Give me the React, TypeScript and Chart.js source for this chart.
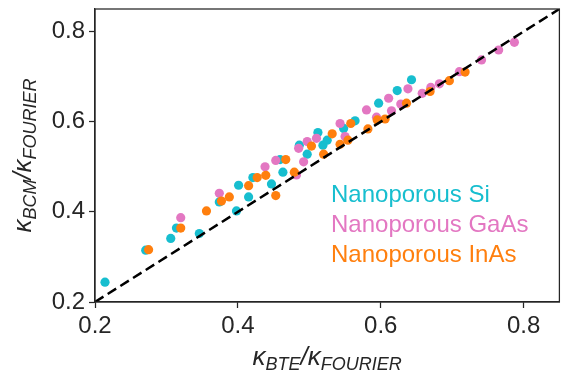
import React, { useEffect, useRef } from "react";
import { Chart, registerables } from "chart.js";

Chart.register(...registerables);

// ---- data ----
const seriesLabels = ["Nanoporous Si", "Nanoporous GaAs", "Nanoporous InAs"];
const seriesColors = ["#17becf", "#e377c2", "#ff7f0e"];

const siX = [0.214, 0.271, 0.306, 0.314, 0.346, 0.374, 0.398, 0.401, 0.415, 0.421, 0.447, 0.459, 0.463, 0.486, 0.497, 0.512, 0.519, 0.525, 0.548, 0.564, 0.597, 0.623, 0.643];
const siY = [0.244, 0.315, 0.341, 0.364, 0.352, 0.422, 0.402, 0.459, 0.433, 0.476, 0.462, 0.516, 0.488, 0.548, 0.528, 0.576, 0.548, 0.559, 0.585, 0.602, 0.641, 0.669, 0.693];

const gaasX = [0.320, 0.374, 0.438, 0.453, 0.482, 0.485, 0.492, 0.497, 0.510, 0.543, 0.550, 0.580, 0.594, 0.611, 0.615, 0.628, 0.638, 0.658, 0.670, 0.682, 0.710, 0.741, 0.765, 0.787];
const gaasY = [0.387, 0.441, 0.500, 0.514, 0.482, 0.541, 0.511, 0.556, 0.563, 0.596, 0.567, 0.626, 0.610, 0.652, 0.624, 0.639, 0.673, 0.663, 0.676, 0.684, 0.711, 0.737, 0.759, 0.776];

const inasX = [0.275, 0.320, 0.356, 0.377, 0.388, 0.415, 0.427, 0.439, 0.453, 0.467, 0.479, 0.503, 0.520, 0.532, 0.543, 0.554, 0.558, 0.582, 0.595, 0.606, 0.636, 0.669, 0.696, 0.718];
const inasY = [0.316, 0.364, 0.402, 0.424, 0.433, 0.458, 0.476, 0.481, 0.436, 0.516, 0.488, 0.546, 0.528, 0.573, 0.550, 0.559, 0.596, 0.584, 0.604, 0.606, 0.641, 0.667, 0.691, 0.710];

const diagonal = [0.2, 0.85];
const tickValues = [0.2, 0.4, 0.6, 0.8];
const axisMin = 0.2;
const axisMax = 0.85;

// ---- styling ----
const INK = "#262626";
const FONT = "'Liberation Sans', Arial, sans-serif";

type Run = [string, boolean];

function drawMath(ctx: CanvasRenderingContext2D, runs: Run[], cx: number, baseline: number) {
  const mainFont = `italic 26px ${FONT}`;
  const subFont = `italic 18px ${FONT}`;
  const widths = runs.map(([t, sub]) => {
    ctx.font = sub ? subFont : mainFont;
    return ctx.measureText(t).width;
  });
  const total = widths.reduce((a, b) => a + b, 0);
  let x = cx - total / 2;
  ctx.textAlign = "left";
  ctx.textBaseline = "alphabetic";
  runs.forEach(([t, sub], i) => {
    ctx.font = sub ? subFont : mainFont;
    ctx.fillText(t, x, sub ? baseline + 5 : baseline);
    x += widths[i];
  });
}

const overlay = {
  id: "overlay",
  afterDraw(chart: any) {
    const ctx: CanvasRenderingContext2D = chart.ctx;
    const a = chart.chartArea;
    ctx.save();
    ctx.strokeStyle = INK;
    ctx.lineWidth = 1.25;
    ctx.strokeRect(a.left, a.top, a.right - a.left, a.bottom - a.top);

    // legend (text only, coloured)
    ctx.font = `24px ${FONT}`;
    ctx.textAlign = "left";
    ctx.textBaseline = "alphabetic";
    seriesLabels.forEach((l, i) => {
      ctx.fillStyle = seriesColors[i];
      ctx.fillText(l, 331, 202 + 30 * i);
    });

    // axis titles
    ctx.fillStyle = INK;
    const cxPlot = (a.left + a.right) / 2;
    const cyPlot = (a.top + a.bottom) / 2;
    drawMath(ctx, [["κ", false], ["BTE", true], ["/", false], ["κ", false], ["FOURIER", true]], cxPlot, 365);
    ctx.save();
    ctx.translate(31, cyPlot);
    ctx.rotate(-Math.PI / 2);
    drawMath(ctx, [["κ", false], ["BCM", true], ["/", false], ["κ", false], ["FOURIER", true]], 0, 0);
    ctx.restore();
    ctx.restore();
  },
};

function axis(fit: (s: any) => void) {
  return {
    type: "linear" as const,
    min: axisMin,
    max: axisMax,
    afterBuildTicks: (s: any) => {
      s.ticks = tickValues.map((v) => ({ value: v }));
    },
    afterFit: (s: any) => {
      fit(s);
      s.paddingTop = 0;
      s.paddingBottom = 0;
      s.paddingLeft = 0;
      s.paddingRight = 0;
    },
    ticks: {
      callback: (v: any) => Number(v).toFixed(1),
      font: { size: 24, family: FONT },
      color: INK,
      padding: 4,
      maxRotation: 0,
      autoSkip: false,
    },
    grid: {
      drawOnChartArea: false,
      drawTicks: true,
      tickLength: 6,
      tickColor: INK,
      tickWidth: 1.25,
      color: INK,
    },
    border: { display: true, color: INK, width: 1.25 },
  };
}

export default function App() {
  const ref = useRef<HTMLCanvasElement | null>(null);

  useEffect(() => {
    if (!ref.current) return;
    const pts = (xs: number[], ys: number[]) => xs.map((x, i) => ({ x, y: ys[i] }));
    const scatterDs = (label: string, color: string, data: any[], order: number) => ({
      type: "scatter" as const,
      label,
      data,
      backgroundColor: color,
      borderWidth: 0,
      pointRadius: 4.6,
      pointHoverRadius: 4.6,
      order,
    });
    const chart = new Chart(ref.current, {
      type: "scatter",
      data: {
        datasets: [
          {
            type: "line" as const,
            label: "diag",
            data: diagonal.map((v) => ({ x: v, y: v })),
            borderColor: "#000",
            borderWidth: 2.5,
            borderDash: [10, 5],
            pointRadius: 0,
            fill: false,
            order: 0,
          } as any,
          scatterDs(seriesLabels[2], seriesColors[2], pts(inasX, inasY), 1),
          scatterDs(seriesLabels[1], seriesColors[1], pts(gaasX, gaasY), 2),
          scatterDs(seriesLabels[0], seriesColors[0], pts(siX, siY), 3),
        ],
      },
      options: {
        responsive: false,
        animation: false,
        layout: { padding: { top: 9, right: 2, left: 0, bottom: 0 } },
        plugins: { legend: { display: false }, tooltip: { enabled: false } },
        scales: {
          x: axis((s: any) => {
            s.height = 72;
          }),
          y: axis((s: any) => {
            s.width = 95;
          }),
        },
      },
      plugins: [overlay],
    });
    return () => chart.destroy();
  }, []);

  return (
    <div style={{ position: "absolute", left: 0, top: 0, width: 564, height: 374, background: "#fff" }}>
      <canvas ref={ref} width={564} height={374} style={{ display: "block" }} />
    </div>
  );
}
